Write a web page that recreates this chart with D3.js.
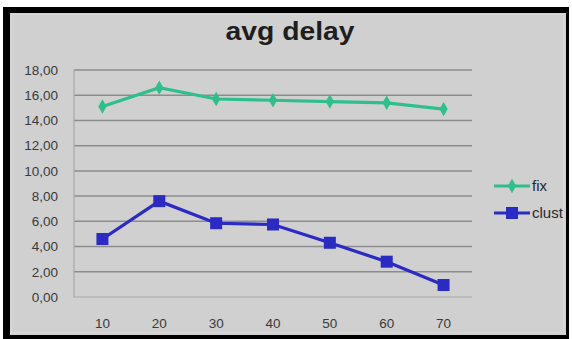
<!DOCTYPE html>
<html>
<head>
<meta charset="utf-8">
<script src="https://cdn.jsdelivr.net/npm/d3@7"></script>
<style>
  html, body { margin: 0; padding: 0; background: #fff; }
  svg { display: block; }
</style>
</head>
<body>
<script>
// Delay figures per load level
const categories = ["10", "20", "30", "40", "50", "60", "70"];
const fixValues = [15.1, 16.6, 15.7, 15.6, 15.5, 15.4, 14.9];
const clustValues = [4.6, 7.6, 5.85, 5.75, 4.3, 2.8, 0.95];
const yTicks = [0, 2, 4, 6, 8, 10, 12, 14, 16, 18];
const seriesNames = ["fix", "clust"];

const W = 572, H = 339;
const svg = d3.select("body").append("svg").attr("width", W).attr("height", H);

// Outer frame: thick black border around a grey panel
svg.append("rect").attr("x", 3).attr("y", 7).attr("width", 566).attr("height", 332).attr("fill", "#000");
svg.append("rect").attr("x", 10).attr("y", 13).attr("width", 556).attr("height", 322).attr("fill", "#d0d0d0");
svg.append("rect").attr("x", 11.5).attr("y", 14.5).attr("width", 552).attr("height", 318)
  .attr("fill", "none").attr("stroke", "#dadada").attr("stroke-width", 1);

const plot = { left: 74, right: 472, top: 70, bottom: 297 };

const x = d3.scaleBand().domain(categories).range([plot.left, plot.right]);
const y = d3.scaleLinear().domain([0, 18]).range([plot.bottom, plot.top]);

// Horizontal gridlines
svg.append("g").selectAll("line").data(yTicks.filter(d => d > 0)).join("line")
  .attr("x1", plot.left).attr("x2", plot.right)
  .attr("y1", d => y(d)).attr("y2", d => y(d))
  .attr("stroke", "#8c8c8c").attr("stroke-width", 1.5);

// Plot area frame (left and bottom)
svg.append("path")
  .attr("d", `M${plot.left},${plot.top}V${plot.bottom}H${plot.right}`)
  .attr("fill", "none").attr("stroke", "#a8a8a8").attr("stroke-width", 1.2);

const font = "Liberation Sans, Arial, sans-serif";

// Y axis labels
const fmt = d => d3.format(".2f")(d).replace(".", ",");
const yAxis = d3.axisLeft(y).tickValues(yTicks).tickFormat(fmt).tickSize(0).tickPadding(16);
const gy = svg.append("g").attr("transform", `translate(${plot.left},0)`).call(yAxis);
gy.select(".domain").remove();
gy.selectAll("text").attr("font-family", font).attr("font-size", 13.5).attr("fill", "#3a3a3a");

// X axis labels
const xAxis = d3.axisBottom(x).tickSize(0).tickPadding(21);
const gx = svg.append("g").attr("transform", `translate(0,${plot.bottom})`).call(xAxis);
gx.select(".domain").remove();
gx.selectAll("text").attr("font-family", font).attr("font-size", 13.5).attr("fill", "#3a3a3a");

// Title
svg.append("text").attr("x", 290).attr("y", 40).attr("text-anchor", "middle")
  .attr("font-family", font).attr("font-weight", "bold")
  .attr("font-size", 25).attr("fill", "#1e1e1e")
  .attr("textLength", 129).attr("lengthAdjust", "spacingAndGlyphs")
  .text("avg delay");

const cx = d => x(d) + x.bandwidth() / 2;
const colors = { fix: "#2ec08c", clust: "#2a2ac4" };

const line = d3.line().x(d => cx(d.c)).y(d => y(d.v));
const fixData = categories.map((c, i) => ({ c, v: fixValues[i] }));
const clustData = categories.map((c, i) => ({ c, v: clustValues[i] }));

// fix series: line with diamond markers
svg.append("path").datum(fixData).attr("d", line)
  .attr("fill", "none").attr("stroke", colors.fix).attr("stroke-width", 3.2);
const diamond = d3.symbol().type(d3.symbolDiamond).size(60);
svg.append("g").selectAll("path").data(fixData).join("path")
  .attr("d", diamond).attr("transform", d => `translate(${cx(d.c)},${y(d.v)})`)
  .attr("fill", colors.fix);

// clust series: line with square markers
svg.append("path").datum(clustData).attr("d", line)
  .attr("fill", "none").attr("stroke", colors.clust).attr("stroke-width", 3.2);
svg.append("g").selectAll("rect").data(clustData).join("rect")
  .attr("x", d => cx(d.c) - 6).attr("y", d => y(d.v) - 6)
  .attr("width", 12).attr("height", 12).attr("fill", colors.clust);

// Legend
const legend = svg.append("g");
seriesNames.forEach((name, i) => {
  const ly = 186 + i * 27;
  legend.append("line").attr("x1", 494).attr("x2", 530).attr("y1", ly).attr("y2", ly)
    .attr("stroke", colors[name]).attr("stroke-width", 3.2);
  if (name === "fix") {
    legend.append("path").attr("d", diamond).attr("transform", `translate(512,${ly})`).attr("fill", colors[name]);
  } else {
    legend.append("rect").attr("x", 506).attr("y", ly - 6).attr("width", 12).attr("height", 12).attr("fill", colors[name]);
  }
  legend.append("text").attr("x", 532).attr("y", ly + 5)
    .attr("font-family", font).attr("font-size", 15)
    .attr("fill", "#2a2a2a").text(name);
});
</script>
</body>
</html>
